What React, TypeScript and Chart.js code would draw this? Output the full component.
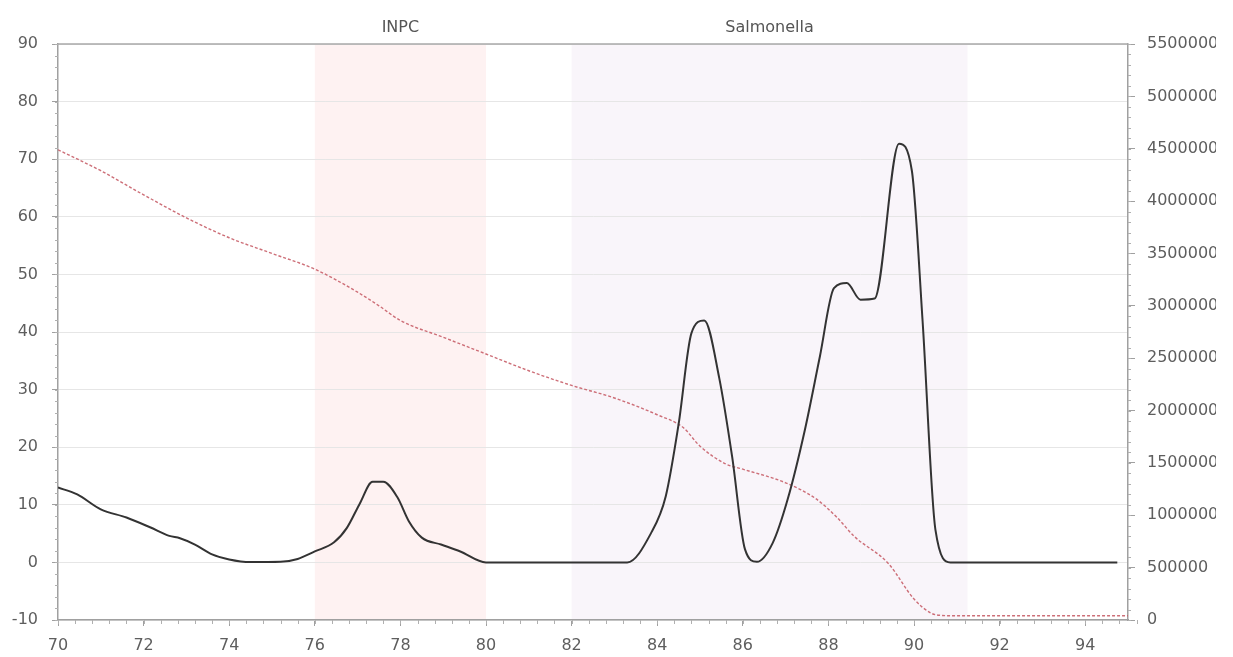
import React, { useEffect, useRef } from "react";
import { Chart, registerables } from "chart.js";

Chart.register(...registerables);

// Black trace (left axis)
const blackX = [70, 70.45, 71, 71.6, 72.15, 72.6, 72.85, 73.2, 73.6, 74.0, 74.5, 75.2, 75.6, 76.0, 76.45, 76.75, 77.05, 77.35, 77.6, 77.93, 78.2, 78.5, 78.95, 79.4, 80, 83.3, 83.85, 84.2, 84.5, 84.8, 85.1, 85.45, 85.75, 86.05, 86.33, 86.7, 87.05, 87.45, 87.8, 88.13, 88.43, 88.75, 89.08, 89.65, 89.95, 90.2, 90.5, 90.85, 94.75];
const blackY = [13, 11.8, 9.2, 7.8, 6.1, 4.6, 4.2, 3.1, 1.4, 0.5, 0.05, 0.1, 0.6, 1.9, 3.5, 6, 10.2, 14, 14, 11.3, 7.1, 4.3, 3.1, 1.9, 0, 0, 5.0, 11.5, 24, 39.8, 42, 32, 18.4, 2.3, 0.1, 3.4, 11, 23, 35.7, 47.6, 48.5, 45.6, 45.8, 72.7, 68, 42, 5.7, 0, 0];

// Red trace (right axis)
const redX = [70, 71, 72, 73, 74, 75, 76, 77, 77.5, 78, 79, 80, 81, 82, 83, 84, 84.6, 85, 85.6, 86, 87, 87.7, 88.2, 88.6, 89.4, 90.0, 90.4, 90.6, 91, 95];
const redY = [4490000, 4290000, 4060000, 3840000, 3650000, 3500000, 3350000, 3130000, 3000000, 2860000, 2700000, 2540000, 2380000, 2240000, 2120000, 1960000, 1840000, 1660000, 1490000, 1440000, 1310000, 1160000, 980000, 800000, 540000, 200000, 65000, 45000, 40000, 40000];

// Axes
const xMin = 70, xMax = 95, xStep = 2;
const yLeftMin = -10, yLeftMax = 90, yLeftStep = 10;
const yRightMin = 0, yRightMax = 5500000, yRightStep = 500000;

// Shaded bands
const bandLabels = ["INPC", "Salmonella"];
const bandStart = [76, 82];
const bandEnd = [80, 91.25];

const FONT = '"DejaVu Sans", Verdana, sans-serif';

const bandPlugin = {
  id: "bands",
  beforeDraw(chart: any) {
    const { ctx, chartArea, scales } = chart;
    const x = scales.x;
    const fills = ["rgba(254,242,242,1)", "rgba(249,245,250,1)"];
    ctx.save();
    bandLabels.forEach((lab, i) => {
      const x0 = x.getPixelForValue(bandStart[i]);
      const x1 = x.getPixelForValue(bandEnd[i]);
      ctx.fillStyle = fills[i];
      ctx.fillRect(x0, chartArea.top, x1 - x0, chartArea.bottom - chartArea.top);
      ctx.fillStyle = "#555";
      ctx.font = "16px " + FONT;
      ctx.textAlign = "center";
      ctx.textBaseline = "alphabetic";
      ctx.fillText(lab, (x0 + x1) / 2, chartArea.top - 12);
    });
    ctx.restore();
  },
  afterDraw(chart: any) {
    const { ctx, chartArea, scales } = chart;
    ctx.save();
    ctx.strokeStyle = "#a8a8a8";
    ctx.lineWidth = 1.5;
    ctx.beginPath();
    ctx.moveTo(chartArea.left, chartArea.top);
    ctx.lineTo(chartArea.right, chartArea.top);
    ctx.stroke();
    ctx.lineWidth = 1;
    ctx.strokeStyle = "#b0b0b0";
    ctx.beginPath();
    const xs = scales.x;
    for (let i = 0; i <= Math.round((xMax - xMin) / 0.4); i++) {
      const v = xMin + i * 0.4;
      const px = Math.round(xs.getPixelForValue(v)) + 0.5;
      ctx.moveTo(px, chartArea.bottom);
      ctx.lineTo(px, chartArea.bottom + 4);
    }
    const yl = scales.y;
    for (let v = yLeftMin; v <= yLeftMax + 1e-6; v += 2) {
      const py = Math.round(yl.getPixelForValue(v)) + 0.5;
      ctx.moveTo(chartArea.left - 3, py);
      ctx.lineTo(chartArea.left, py);
    }
    const yr = scales.y1;
    for (let v = yRightMin; v <= yRightMax + 1; v += 100000) {
      const py = Math.round(yr.getPixelForValue(v)) + 0.5;
      ctx.moveTo(chartArea.right, py);
      ctx.lineTo(chartArea.right + 3, py);
    }
    ctx.stroke();
    ctx.restore();
  },
};

const onStep = (step: number) => (scale: any) => {
  scale.ticks = scale.ticks.filter(
    (t: any) => Math.abs(t.value / step - Math.round(t.value / step)) < 1e-6
  );
};

export default function App() {
  const ref = useRef<HTMLCanvasElement>(null);
  useEffect(() => {
    if (!ref.current) return;
    const tickFont = { family: FONT, size: 16 };
    const chart = new Chart(ref.current, {
      type: "line",
      data: {
        datasets: [
          {
            label: "Signal",
            data: blackX.map((x, i) => ({ x, y: blackY[i] })),
            borderColor: "#333333",
            borderWidth: 2,
            pointRadius: 0,
            cubicInterpolationMode: "monotone",
            yAxisID: "y",
          },
          {
            label: "Count",
            data: redX.map((x, i) => ({ x, y: redY[i] })),
            borderColor: "rgba(200,95,105,0.9)",
            borderWidth: 1.4,
            borderDash: [3, 2],
            pointRadius: 0,
            cubicInterpolationMode: "monotone",
            yAxisID: "y1",
          },
        ],
      },
      options: {
        responsive: false,
        animation: false,
        devicePixelRatio: 1,
        layout: { padding: { top: 44, left: 0, right: 0, bottom: 0 } },
        plugins: { legend: { display: false }, tooltip: { enabled: false } },
        scales: {
          x: {
            type: "linear",
            min: xMin,
            max: xMax,
            afterBuildTicks: onStep(xStep),
            afterFit: (s: any) => { s.height = 37; },
            ticks: { stepSize: xStep, font: tickFont, color: "#5e5e5e", padding: 10, maxRotation: 0 },
            grid: { drawOnChartArea: false, tickLength: 6, tickColor: "#a0a0a0" },
            border: { color: "#a0a0a0", width: 1.5 },
          },
          y: {
            position: "left",
            min: yLeftMin,
            max: yLeftMax,
            afterBuildTicks: onStep(yLeftStep),
            afterFit: (s: any) => { s.width = 58; },
            ticks: { stepSize: yLeftStep, font: tickFont, color: "#5e5e5e", padding: 14 },
            grid: { color: "#e6e6e6", tickLength: 6, tickColor: "#a0a0a0" },
            border: { color: "#a0a0a0", width: 1.5 },
          },
          y1: {
            position: "right",
            min: yRightMin,
            max: yRightMax,
            afterBuildTicks: onStep(yRightStep),
            afterFit: (s: any) => { s.width = 132; },
            ticks: {
              stepSize: yRightStep,
              font: tickFont,
              color: "#5e5e5e",
              padding: 12,
              callback: (v: any) => String(v),
            },
            grid: { drawOnChartArea: false, tickLength: 7, tickColor: "#a0a0a0" },
            border: { color: "#a0a0a0", width: 1.5 },
          },
        },
      },
      plugins: [bandPlugin],
    } as any);
    return () => chart.destroy();
  }, []);
  return (
    <div style={{ position: "absolute", left: 0, top: 0, width: 1216, height: 657, overflow: "hidden", background: "#fff" }}>
      <canvas ref={ref} width={1260} height={657} style={{ width: 1260, height: 657, display: "block" }} />
    </div>
  );
}
